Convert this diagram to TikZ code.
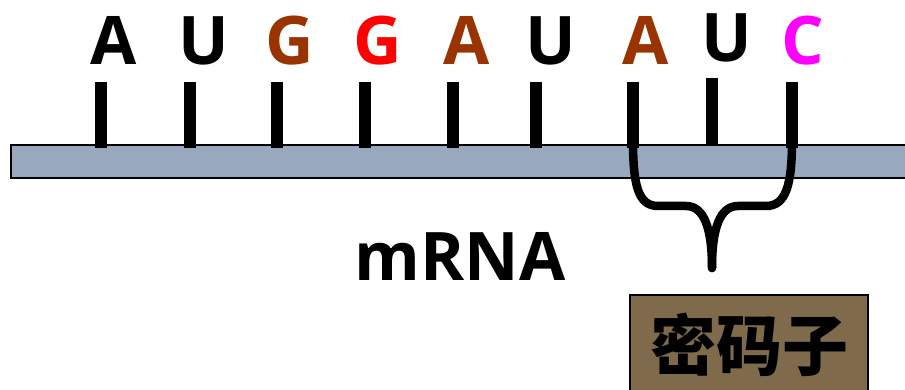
\documentclass[tikz,border=0pt]{standalone}
\usepackage{fontspec}
\setmainfont{Open Sans}
\newfontfamily\cjk{Noto Sans CJK SC}
\definecolor{strand}{RGB}{152,168,190}
\definecolor{basebrown}{RGB}{153,51,0}
\definecolor{basered}{RGB}{255,0,0}
\definecolor{basepink}{RGB}{255,0,255}
\definecolor{codonbox}{RGB}{128,106,76}
\tikzset{
  base/.style={anchor=base, font=\fontsize{67}{67}\selectfont\bfseries, inner sep=0pt},
  stem/.style={line width=12pt},
  brace/.style={line width=8.5pt, line cap=round, line join=round},
}
\begin{document}
\begin{tikzpicture}[x=1pt,y=-1pt]
\useasboundingbox (0,0) rectangle (905,390);
% mRNA strand
\draw[fill=strand, line width=1.8pt] (11,145) rectangle (920,178);
% base stems
\foreach \x in {101,190,277,365,453,536,633,792}
  \draw[stem] (\x,82) -- (\x,148);
\draw[stem] (712,78) -- (712,145);
% bases
\node[base] (b1) at (114,65) {A};
\node[base] (b2) at (204,65) {U};
\node[base, text=basebrown] (b3) at (290,65) {G};
\node[base, text=basered] (b4) at (378,65) {G};
\node[base, text=basebrown] (b5) at (467,65) {A};
\node[base] (b6) at (551,65) {U};
\node[base, text=basebrown] (b7) at (646,65) {A};
\node[base] (b8) at (727,62) {U};
\node[base, text=basepink] (b9) at (803,65) {C};
% strand label
\node[base] (mrna) at (460,280) {mRNA};
% brace over the last codon
\coordinate (tip) at (712,268);
\draw[brace] (633,140) .. controls (633,185) and (638,206) .. (658,206)
  -- (686,206) .. controls (704,206) and (712,228) .. (tip);
\draw[brace] (792,140) .. controls (792,185) and (786,206) .. (766,206)
  -- (738,206) .. controls (720,206) and (712,228) .. (tip);
% codon label
\draw[fill=codonbox, line width=1.8pt] (630,295) rectangle (868,400);
\node[anchor=base, inner sep=0pt, font=\cjk\fontsize{66}{66}\selectfont\bfseries] (codon) at (749,370) {密码子};
\end{tikzpicture}
\end{document}
